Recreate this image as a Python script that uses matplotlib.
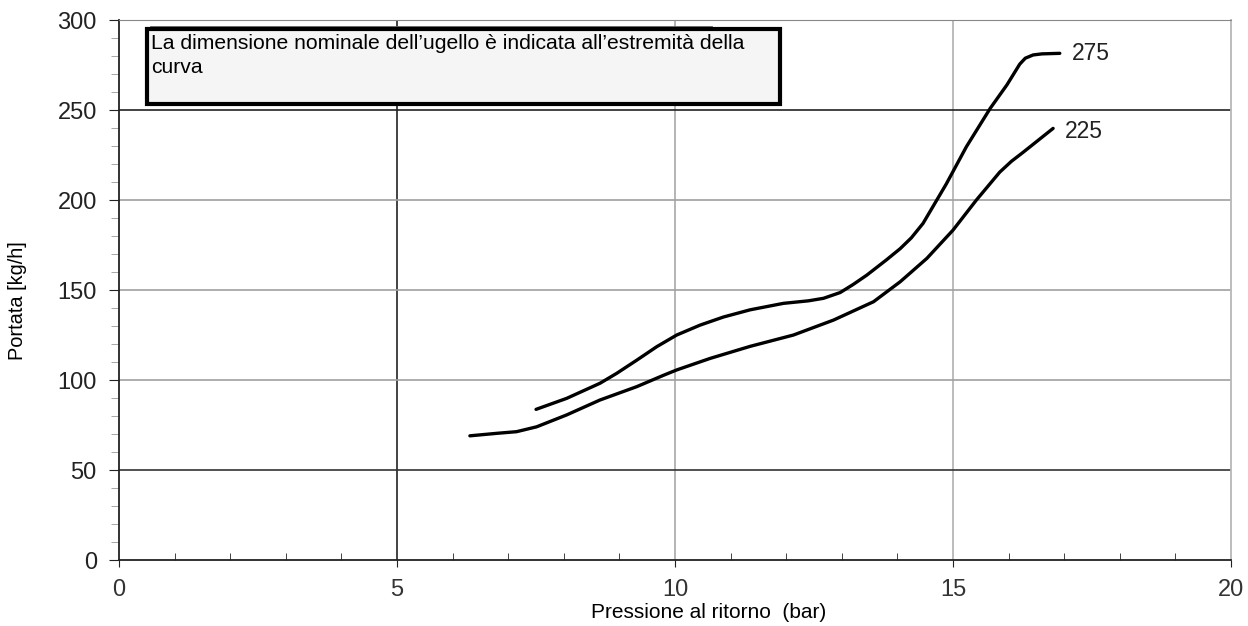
import numpy as np
import matplotlib.pyplot as plt
from matplotlib.patches import Rectangle
from matplotlib.ticker import MultipleLocator

plt.rcParams['font.family'] = ['Liberation Sans', 'DejaVu Sans']

# curve for nozzle 275
x275 = [7.5, 8.05, 8.65, 8.95, 9.31, 9.67, 10.03, 10.45, 10.87, 11.35, 11.95, 12.4, 12.67,
        12.97, 13.2, 13.45, 13.8, 14.05, 14.25, 14.46, 14.88, 15.24, 15.67, 15.97, 16.1,
        16.2, 16.3, 16.44, 16.6, 16.92]
y275 = [83.7, 89.8, 98.2, 103.7, 111, 118.5, 125, 130.5, 135, 139, 142.6, 144, 145.4,
        148.6, 153, 158.3, 166.7, 173, 179, 187, 209, 229.6, 251, 264, 270.5,
        275.5, 278.8, 280.6, 281.2, 281.5]

# curve for nozzle 225
x225 = [6.31, 6.8, 7.15, 7.51, 8.05, 8.65, 9.31, 9.79, 10.03, 10.63, 11.35, 12.13, 12.85,
        13.57, 14.05, 14.53, 15.0, 15.42, 15.84, 16.05, 16.26, 16.8]
y225 = [69, 70.4, 71.3, 74, 80.6, 88.9, 96.3, 102.6, 105.6, 112, 118.7, 125, 133.3,
        143.5, 154.6, 167.6, 183.3, 200, 215.5, 221.5, 226.5, 239.8]

labels = ['275', '225']

fig = plt.figure(figsize=(12.48, 6.26), dpi=100)
ax = fig.add_axes([0.0954, 0.1054, 0.8910, 0.8626])

ax.set_xlim(0, 20)
ax.set_ylim(0, 300)
ax.xaxis.set_major_locator(MultipleLocator(5))
ax.xaxis.set_minor_locator(MultipleLocator(1))
ax.yaxis.set_major_locator(MultipleLocator(50))
ax.yaxis.set_minor_locator(MultipleLocator(10))

# grid lines, some dark, some grey
for xv, c in [(5, '#222222'), (10, '#a8a8a8'), (15, '#b0b0b0')]:
    ax.axvline(xv, color=c, lw=1.2, zorder=1)
for yv, c in [(50, '#333333'), (100, '#a0a0a0'), (150, '#a0a0a0'), (200, '#a0a0a0'), (250, '#222222')]:
    ax.axhline(yv, color=c, lw=1.2, zorder=1)

for s in ['left', 'bottom']:
    ax.spines[s].set_color('#222222')
    ax.spines[s].set_linewidth(1.3)
ax.spines['top'].set_color('#888888')
ax.spines['right'].set_color('#b8b8b8')
ax.spines['right'].set_linewidth(1.3)

ax.tick_params(axis='both', which='major', labelsize=17, colors='#222222', length=5)
ax.tick_params(axis='x', which='major', direction='out', length=5, pad=9)
ax.tick_params(axis='x', which='minor', direction='in', length=5, color='#222222')
ax.tick_params(axis='y', which='major', direction='out', length=7, pad=9)
ax.tick_params(axis='y', which='minor', direction='out', length=6, color='#999999')
ax.tick_params(axis='x', which='major', labelcolor='#333333')

ax.plot(x275, y275, color='black', lw=2.4, zorder=3, solid_capstyle='round', solid_joinstyle='round')
ax.plot(x225, y225, color='black', lw=2.4, zorder=3, solid_capstyle='round', solid_joinstyle='round')
ax.text(x275[-1] + 0.22, y275[-1], labels[0], fontsize=16.5, va='center', color='#222222')
ax.text(x225[-1] + 0.22, y225[-1] - 1.5, labels[1], fontsize=16.5, va='center', color='#222222')

# note box
ax.plot([0.58, 10.65], [296.2, 296.2], color='#666666', lw=2, zorder=4, clip_on=False)
ax.add_patch(Rectangle((0.025, 0.844), 0.569, 0.139, transform=ax.transAxes,
                       facecolor='#f5f5f5', edgecolor='black', lw=3, zorder=5))
ax.text(0.029, 0.975, "La dimensione nominale dell\u2019ugello \u00e8 indicata all\u2019estremit\u00e0 della\ncurva",
        transform=ax.transAxes, fontsize=15.2, va='top', ha='left', zorder=6, linespacing=1.38)

ax.set_xlabel('Pressione al ritorno  (bar)', fontsize=15, va='center', ha='center')
ax.xaxis.set_label_coords(0.53, -0.098)
ax.set_ylabel('Portata [kg/h]', fontsize=14.4, va='center', ha='center')
ax.yaxis.set_label_coords(-0.091, 0.481)

fig.savefig('out.png', dpi=100)
